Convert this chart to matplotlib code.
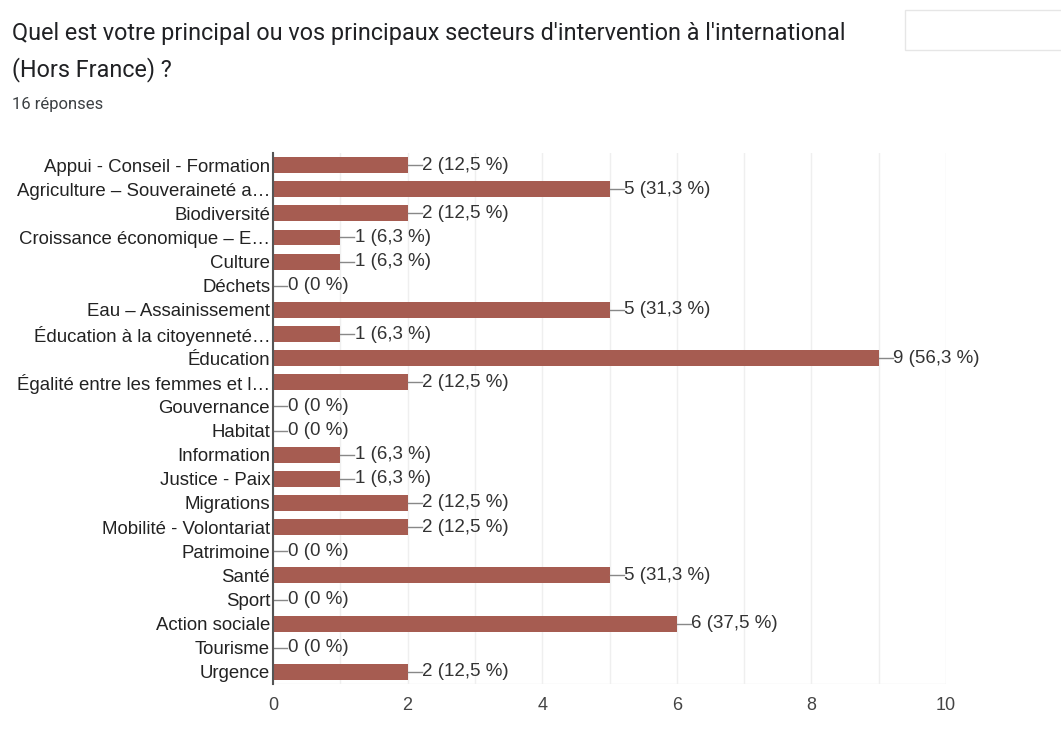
import matplotlib
matplotlib.use("Agg")
import matplotlib.pyplot as plt
from matplotlib.patches import Rectangle

categories = [
    "Appui - Conseil - Formation",
    "Agriculture – Souveraineté a…",
    "Biodiversité",
    "Croissance économique – E…",
    "Culture",
    "Déchets",
    "Eau – Assainissement",
    "Éducation à la citoyenneté…",
    "Éducation",
    "Égalité entre les femmes et l…",
    "Gouvernance",
    "Habitat",
    "Information",
    "Justice - Paix",
    "Migrations",
    "Mobilité - Volontariat",
    "Patrimoine",
    "Santé",
    "Sport",
    "Action sociale",
    "Tourisme",
    "Urgence",
]
counts = [2, 5, 2, 1, 1, 0, 5, 1, 9, 2, 0, 0, 1, 1, 2, 2, 0, 5, 0, 6, 0, 2]
pct_labels = ["12,5", "31,3", "12,5", "6,3", "6,3", "0", "31,3", "6,3", "56,3", "12,5",
              "0", "0", "6,3", "6,3", "12,5", "12,5", "0", "31,3", "0", "37,5", "0", "12,5"]
x_ticks = [0, 2, 4, 6, 8, 10]

title = "Quel est votre principal ou vos principaux secteurs d'intervention à l'international\n(Hors France) ?"
subtitle = "16 réponses"

W, H = 1061, 735
fig = plt.figure(figsize=(W / 100, H / 100), dpi=100)
fig.patch.set_facecolor("white")
plt.rcParams["font.family"] = ["Liberation Sans", "DejaVu Sans"]

ax = fig.add_axes([273 / W, 1 - 684 / H, (946 - 273) / W, (684 - 153) / H])
n = len(categories)
ypos = list(range(n))
bar_color = "#a65c51"
ax.barh(ypos, counts, height=0.66, color=bar_color, zorder=3)
ax.set_ylim(n - 0.5, -0.5)
ax.set_xlim(0, 10)

ax.set_yticks(ypos)
ax.set_yticklabels(categories, fontsize=13.4, color="#222222")
ax.set_xticks(x_ticks)
ax.set_xticklabels([str(t) for t in x_ticks], fontsize=13, color="#444444")
ax.tick_params(axis="both", length=0)
ax.tick_params(axis="y", pad=2)
ax.tick_params(axis="x", pad=9)

for g in range(0, 11):
    ax.axvline(g, color="#efefef", lw=1, zorder=1)
ax.axhline(n - 0.5, color="#efefef", lw=1, zorder=1)

for s in ["top", "right", "bottom"]:
    ax.spines[s].set_visible(False)
ax.spines["left"].set_color("#555555")
ax.spines["left"].set_linewidth(1.5)
ax.spines["left"].set_zorder(4)

unit = (946 - 273) / 10.0  # px per unit
seg = 14 / unit
for i, (c, p) in enumerate(zip(counts, pct_labels)):
    ax.plot([c, c + seg], [i, i], color="#888888", lw=1, zorder=4, clip_on=False)
    ax.text(c + seg + 0.01, i, f"{c} ({p} %)", va="center", ha="left",
            fontsize=13.5, color="#333333", zorder=5)

fig.text(12 / W, 1 - 22 / H, title, fontsize=16.8, color="#202124", va="top", ha="left",
         linespacing=1.6, family=["Roboto", "DejaVu Sans"])
fig.text(12 / W, 1 - 105 / H, subtitle, fontsize=12, color="#3c4043", va="center", ha="left",
         family=["Roboto", "DejaVu Sans"])

# faint box top-right
fig.patches.append(Rectangle((905 / W, 1 - 50 / H), 160 / W, 40 / H, transform=fig.transFigure,
                             facecolor="white", edgecolor="#e6e6e6", lw=1))

fig.savefig("out.png", dpi=100, facecolor="white")
